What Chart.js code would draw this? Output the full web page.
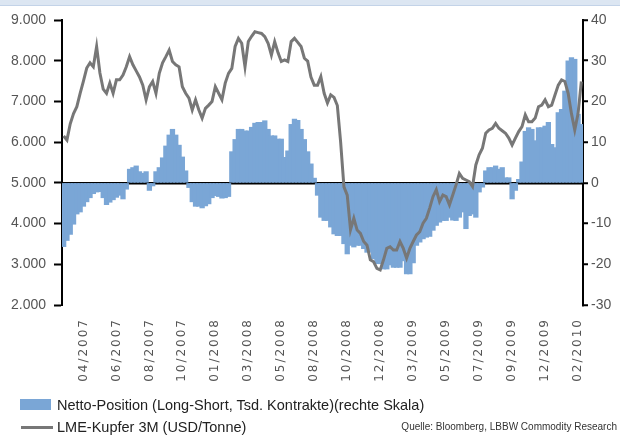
<!DOCTYPE html>
<html lang="de">
<head>
<meta charset="utf-8">
<title>Netto-Position vs. LME-Kupfer</title>
<script src="https://cdn.jsdelivr.net/npm/chart.js@4.4.1/dist/chart.umd.min.js"></script>
<style>
  html, body { margin: 0; padding: 0; background: #fff; }
  #wrap { position: relative; width: 620px; height: 436px; overflow: hidden; font-family: "Liberation Sans", Arial, sans-serif; }
  #topband { position: absolute; left: 0; top: 0; width: 620px; height: 5px; background: #dce6f2; border-bottom: 1px solid #c3d3e8; }
  #chart { position: absolute; left: 0; top: 0; }
  .leg { position: absolute; left: 57px; font-size: 14.5px; line-height: 16px; color: #222; white-space: nowrap; }
  #boxNetto { position: absolute; left: 20px; top: 399px; width: 31px; height: 11px; background: #7aa6d6; }
  #lineKupfer { position: absolute; left: 21px; top: 426px; width: 32px; height: 3px; background: #777; }
  #quelle { position: absolute; right: 3px; top: 421px; font-size: 10px; line-height: 12px; color: #333; white-space: nowrap; }
</style>
</head>
<body>
<div id="wrap">
  <div id="topband"></div>
  <canvas id="chart" width="620" height="436"></canvas>
  <div id="boxNetto"></div>
  <div class="leg" style="top:397px">Netto-Position (Long-Short, Tsd. Kontrakte)(rechte Skala)</div>
  <div id="lineKupfer"></div>
  <div class="leg" style="top:419px">LME-Kupfer 3M (USD/Tonne)</div>
  <div id="quelle">Quelle: Bloomberg, LBBW Commodity Research</div>
</div>
<script>
// Wochenwerte Feb 2007 - Feb 2010
var tickLabels = ["04/2007", "06/2007", "08/2007", "10/2007", "01/2008", "03/2008", "05/2008", "08/2008",
  "10/2008", "12/2008", "03/2009", "05/2009", "07/2009", "09/2009", "12/2009", "02/2010"];
var firstTick = 6, tickEvery = 10;

// LME-Kupfer 3M, USD/Tonne (linke Skala)
var kupfer = [
  6150, 6050, 6450, 6700, 6870, 7200, 7500, 7820, 7950, 7850,
  8350, 7700, 7300, 7200, 7450, 7200, 7530, 7530, 7650, 7850,
  8100, 7900, 7750, 7600, 7400, 7040, 7360, 7490, 7200, 7690,
  7950, 8100, 8260, 7980, 7900, 7850, 7360, 7200, 7080, 6790,
  7040, 6790, 6590, 6830, 6910, 7000, 7360, 7200, 7040, 7450,
  7690, 7810, 8350, 8550, 8430, 7850, 8470, 8600, 8710, 8690,
  8670, 8590, 8430, 8140, 8470, 8200, 7980, 8020, 7980, 8470,
  8550, 8450, 8350, 8060, 7990, 7600, 7400, 7400, 7610, 7200,
  6960, 7160, 7100, 6900, 6000, 4900, 4700, 3850, 4130, 3840,
  3760, 3560, 3470, 3110, 3060, 2900, 2860, 3110, 3390, 3430,
  3350, 3350, 3560, 3390, 3150, 3390, 3560, 3720, 3800, 4010,
  4130, 4380, 4660, 4830, 4540, 4700, 4660, 4460, 4700, 4950,
  5230, 5110, 5070, 5030, 4910, 5440, 5690, 5850, 6220, 6300,
  6340, 6460, 6340, 6280, 6220, 6100, 5930, 6100, 6260, 6380,
  6670, 6500, 6500, 6590, 6870, 6910, 7040, 6870, 6910, 7160,
  7400, 7530, 7490, 7200, 6700, 6300, 6700, 7490
];

// Netto-Position Long-Short, Tsd. Kontrakte (rechte Skala)
var netto = [
  -15.5, -14, -12.5, -10, -7.5, -7, -5.6, -4.5, -3.5, -2.5,
  -2.1, -2, -3.5, -5.2, -4.6, -4, -3.4, -2.9, -3.8, -1.4,
  3.2, 3.6, 4, 2.6, 2.2, 2.6, -1.7, -0.6, 2.6, 3.6,
  6, 8.9, 11.6, 13, 11.6, 9.1, 6.2, 2.8, -1, -4.5,
  -5.6, -5.6, -6, -5.5, -5, -3.5, -3, -3.2, -3.6, -3.5,
  -3.2, 7.5, 10.5, 13, 13, 12.6, 12.6, 13.5, 14.5, 14.7,
  14.7, 15.1, 13, 11.4, 11.4, 10.6, 10.6, 6.1, 7.7, 14.2,
  15.5, 15.2, 13, 10.5, 7.5, 4.5, 1, -2.9, -8.3, -9.1,
  -9.1, -10.7, -12.4, -12.8, -12.8, -14.8, -17.3, -15.2, -15.6, -15.2,
  -15.2, -16, -16.9, -16.9, -18.5, -19.7, -19.7, -21, -21, -20,
  -20.6, -20.6, -20.6, -19, -22.2, -22.2, -19.5, -15.2, -14.4, -13.6,
  -13.2, -13, -11.5, -10.3, -9.5, -9.1, -9.1, -8.3, -9, -9.1,
  -8.3, -7, -11.1, -7.9, -7.5, -8.3, -2.1, -0.9, 2.8, 3.6,
  3.6, 4, 3.2, 3.6, 1.1, 1.1, -3.8, -1.7, 0.7, 5,
  12.5, 13.4, 13, 10.2, 13.4, 13.4, 13.8, 14.7, 9.3, 8.5,
  17.1, 17.9, 22.4, 29.8, 30.6, 30.2, 16.7, 14.2
];

var weeks = kupfer.map(function (v, i) {
  var k = (i - firstTick) / tickEvery;
  return (k >= 0 && k === Math.floor(k)) ? tickLabels[k] : "";
});

function fmtDe(v) {
  return Math.floor(v / 1000) + "." + ("00" + (v % 1000)).slice(-3);
}

var tickFont = { family: "'Liberation Sans', Arial, sans-serif", size: 14 };

// Datumsbeschriftung in der Vorlage ist gesperrt gesetzt -> letterSpacing nur fuer die x-Achse
var spacedLabels = {
  id: "spacedLabels",
  beforeDraw: function (chart) {
    var sx = chart.scales.x;
    if (!sx || sx._spaced) return;
    sx._spaced = true;
    var orig = sx.drawLabels;
    sx.drawLabels = function (area) {
      var ctx = this.ctx;
      var old = ctx.letterSpacing;
      ctx.letterSpacing = "2px";
      orig.call(this, area);
      ctx.letterSpacing = old || "0px";
    };
  }
};

new Chart(document.getElementById("chart"), {
  type: "bar",
  data: {
    labels: weeks,
    datasets: [
      {
        type: "line", label: "LME-Kupfer 3M (USD/Tonne)", data: kupfer, yAxisID: "y",
        borderColor: "#777", borderWidth: 3, pointRadius: 0, tension: 0, order: 0
      },
      {
        type: "bar", label: "Netto-Position (Long-Short, Tsd. Kontrakte)(rechte Skala)", data: netto, yAxisID: "y1",
        backgroundColor: "#7aa6d6", borderWidth: 0, barPercentage: 1, categoryPercentage: 1,
        inflateAmount: 1, order: 1
      }
    ]
  },
  options: {
    responsive: false, animation: false, events: [],
    layout: { padding: { top: 20, left: 0, right: 0, bottom: 0 } },
    plugins: { legend: { display: false }, tooltip: { enabled: false } },
    scales: {
      x: {
        offset: true,
        grid: { display: false, drawTicks: false },
        border: { display: false },
        ticks: { autoSkip: false, maxRotation: 90, minRotation: 90, padding: 13, color: "#555",
          font: { family: "'DejaVu Sans', sans-serif", size: 12 } },
        afterFit: function (s) { s.height = 131; }
      },
      y: {
        position: "left", min: 2000, max: 9000,
        ticks: { stepSize: 1000, callback: fmtDe, padding: 8, color: "#555", font: tickFont },
        grid: { drawOnChartArea: false, tickLength: 8, tickColor: "#000", tickWidth: 2 },
        border: { color: "#000", width: 2 },
        afterFit: function (s) { s.width = 62; }
      },
      y1: {
        position: "right", min: -30, max: 40, z: 1,
        ticks: { stepSize: 10, padding: 3, color: "#555", font: tickFont },
        grid: {
          drawOnChartArea: true, tickLength: 5, tickColor: "#000", tickWidth: 2, lineWidth: 2.5,
          color: function (c) { return c.tick && c.tick.value === 0 ? "#000" : "rgba(0,0,0,0)"; }
        },
        border: { color: "#000", width: 2 },
        afterFit: function (s) { s.width = 37; }
      }
    }
  },
  plugins: [spacedLabels]
});
</script>
</body>
</html>
